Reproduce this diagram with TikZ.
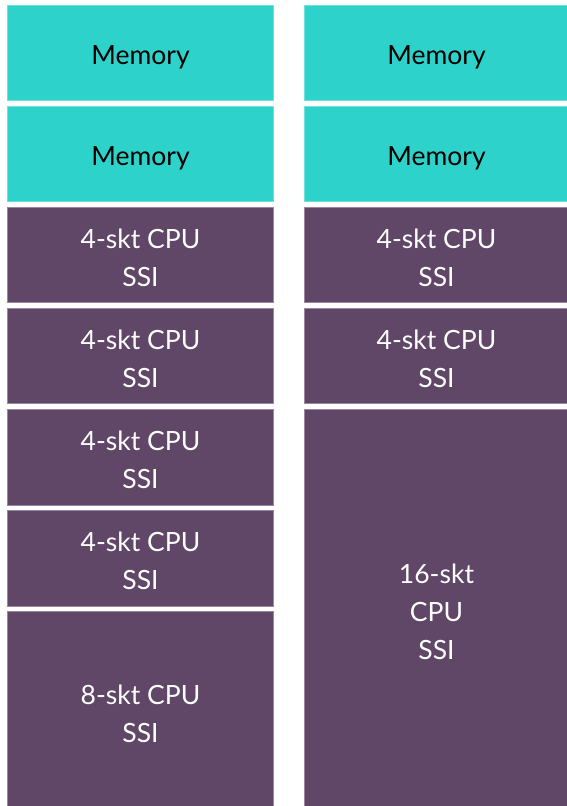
\documentclass[tikz,border=0pt]{standalone}
\usepackage{fontspec}
\setmainfont{Lato}
\definecolor{memfill}{HTML}{2DD3CA}
\definecolor{memedge}{HTML}{6FE2DB}
\definecolor{cpufill}{HTML}{614767}
\definecolor{cpuedge}{HTML}{9A879E}
\tikzset{
  x=1pt, y=-1pt,
  blk/.style={line width=0.8pt, inner sep=0pt, align=center,
    font=\fontsize{26.5}{38}\selectfont},
  mem/.style={blk, fill=memfill, draw=memedge, text=black},
  cpu/.style={blk, fill=cpufill, draw=cpuedge, text=white},
  lbl/.style={yshift=-3pt},
  memlbl/.style={yshift=-5pt},
}
\begin{document}
\begin{tikzpicture}
\useasboundingbox (0,0) rectangle (567,806);
\clip (0,0) rectangle (567,806);
% left column
\draw[mem] (7.5,5) rectangle (273.5,100.5) node[midway,memlbl] (l1) {Memory};
\draw[mem] (7.5,106) rectangle (273.5,201.5) node[midway,memlbl] (l2) {Memory};
\draw[cpu] (7.5,207) rectangle (273.5,302.5) node[midway,lbl] (l3) {4-skt CPU\\SSI};
\draw[cpu] (7.5,308) rectangle (273.5,403.5) node[midway,lbl] (l4) {4-skt CPU\\SSI};
\draw[cpu] (7.5,409) rectangle (273.5,505) node[midway,lbl] (l5) {4-skt CPU\\SSI};
\draw[cpu] (7.5,510.5) rectangle (273.5,606) node[midway,lbl] (l6) {4-skt CPU\\SSI};
\draw[cpu] (7.5,611.5) rectangle (273.5,811) node[midway,lbl] (l7) {8-skt CPU\\SSI};
% right column
\draw[mem] (304,5) rectangle (569,100.5) node[midway,memlbl] (r1) {Memory};
\draw[mem] (304,106) rectangle (569,201.5) node[midway,memlbl] (r2) {Memory};
\draw[cpu] (304,207) rectangle (569,302.5) node[midway,lbl] (r3) {4-skt CPU\\SSI};
\draw[cpu] (304,308) rectangle (569,403.5) node[midway,lbl] (r4) {4-skt CPU\\SSI};
\draw[cpu] (304,409) rectangle (569,809) node[midway,lbl] (r5) {16-skt\\CPU\\SSI};
\end{tikzpicture}
\end{document}
